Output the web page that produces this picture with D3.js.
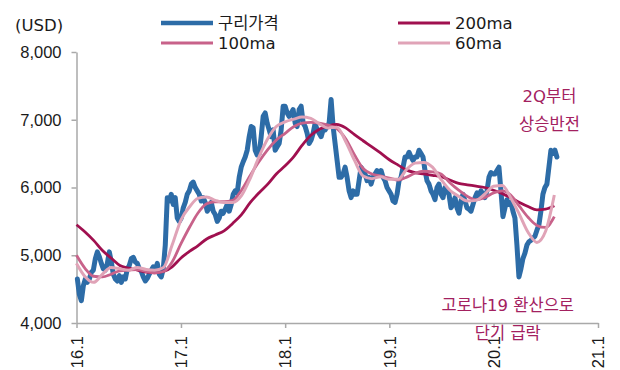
<!DOCTYPE html>
<html>
<head>
<meta charset="utf-8">
<script src="https://cdn.jsdelivr.net/npm/d3@7"></script>
<style>
  html, body { margin: 0; padding: 0; background: #fff; }
  svg { display: block; font-family: "DejaVu Sans", "Noto Sans CJK KR", sans-serif; }
</style>
</head>
<body>
<svg id="chart" width="620" height="370"></svg>
<script>
// Weekly copper price (USD/t), one value per Monday week, by year
const copper2016 = [4650, 4420, 4330, 4550,
  4650, 4600, 4650, 4750, 4780,
  4950, 5050, 4980, 4880,
  4800, 4780, 4880, 5050,
  4900, 4720, 4650, 4620, 4700,
  4600, 4680, 4650, 4800,
  4850, 4950, 4970, 4900,
  4880, 4800, 4760, 4680, 4620,
  4660, 4720, 4780, 4830,
  4780, 4880, 4720, 4680, 4800,
  5150, 5850, 5800, 5900,
  5750, 5850, 5550, 5500];
const copper2017 = [5550, 5700, 5780, 5900, 5950,
  6050, 6080, 6000, 5950,
  5900, 5800, 5850, 5780,
  5650, 5700, 5780, 5650,
  5600, 5500, 5550, 5650, 5620,
  5680, 5750, 5650, 5750,
  5900, 5950, 5920, 6150, 6300,
  6380, 6450, 6550, 6750,
  6900, 6880, 6550, 6480,
  6500, 6750, 7050, 7100, 6950,
  6850, 6750, 6850, 6550,
  6600, 6650, 6850, 7200];
const copper2018 = [7200, 7100, 7050, 7100, 7150,
  6950, 6900, 7150, 7200,
  6950, 6900, 6800, 6650,
  6700, 6800, 6950, 6850, 6800,
  6750, 6850, 6850, 6900,
  6950, 7300, 6900, 6650,
  6400, 6150, 6150, 6200, 6300,
  6150, 5950, 5850, 5950,
  5900, 5900, 6100, 6300,
  6250, 6200, 6100, 6150, 6050,
  6150, 6200, 6250, 6200,
  6250, 6150, 6100, 6000, 5950];
const copper2019 = [5900, 5800, 5780, 5900,
  6100, 6150, 6300, 6450,
  6450, 6520, 6450, 6400,
  6450, 6450, 6550, 6500, 6450,
  6250, 6100, 6050, 5950,
  5900, 5820, 6000, 6050,
  5900, 5850, 6000, 5950, 5900,
  5700, 5750, 5850, 5700,
  5620, 5800, 5900, 5800, 5700,
  5680, 5650, 5750, 5850,
  5920, 5850, 5950, 5900,
  5850, 5950, 6150, 6220, 6200];
const copper2020 = [6200, 6250, 6300, 5950,
  5570, 5700, 5820, 5750,
  5780, 5650, 5550, 5150, 4680,
  4800, 4950, 5030, 5150,
  5200, 5220, 5250, 5280,
  5370, 5450, 5650, 5900, 6000,
  6050, 6300, 6550, 6500,
  6550, 6450];

// Moving averages, one value per month (Jan 2016 - Aug 2020)
const ma200 = [5450, 5340, 5220, 5070, 4960, 4850, 4810, 4780, 4750, 4740, 4760, 4830,
  4960, 5060, 5140, 5240, 5300, 5360, 5470, 5600, 5780, 5920, 6050, 6200,
  6320, 6460, 6620, 6770, 6860, 6910, 6930, 6880, 6780, 6690, 6600, 6510,
  6410, 6330, 6260, 6220, 6200, 6180, 6160, 6110, 6060, 6040, 6020, 6000,
  5960, 5910, 5850, 5780, 5720, 5670, 5680, 5730];
const ma100 = [5000, 4800, 4690, 4680, 4720, 4770, 4780, 4790, 4760, 4740, 4760, 4900,
  5170, 5420, 5620, 5760, 5790, 5790, 5810, 5960, 6180, 6380, 6560, 6700,
  6800, 6900, 6950, 6960, 6950, 6920, 6870, 6720, 6480, 6280, 6200, 6170,
  6140, 6110, 6150, 6210, 6240, 6230, 6200, 6070, 5960, 5870, 5820, 5850,
  5920, 5950, 5890, 5720, 5560, 5440, 5410, 5570];
const ma60 = [4880, 4680, 4600, 4720, 4820, 4800, 4780, 4820, 4790, 4780, 4820, 5150,
  5520, 5720, 5840, 5860, 5810, 5780, 5780, 5880, 6140, 6450, 6720, 6900,
  6970, 7010, 7040, 7020, 6940, 6880, 6890, 6680, 6400, 6170, 6130, 6160,
  6120, 6120, 6260, 6360, 6370, 6300, 6120, 5960, 5870, 5800, 5810, 5900,
  6020, 6030, 5850, 5600, 5340, 5190, 5350, 5890];

const yTicks = [4000, 5000, 6000, 7000, 8000];
const xTickYears = [2016, 2017, 2018, 2019, 2020, 2021];
const xTickLabels = ["16.1", "17.1", "18.1", "19.1", "20.1", "21.1"];
const seriesNames = ["구리가격", "200ma", "100ma", "60ma"];
const seriesColors = ["#2d6ca7", "#a0104f", "#c8628a", "#e0a3b7"];
const notes = [
  { lines: ["2Q부터", "상승반전"], date: new Date(2020, 6, 15), value: 7350 },
  { lines: ["고로나19 환산으로", "단기 급락"], date: new Date(2020, 1, 20), value: 4265 }
];

const svg = d3.select("#chart");
const x = d3.scaleTime()
  .domain([new Date(2016, 0, 1), new Date(2021, 0, 1)])
  .range([76.5, 598]);
const y = d3.scaleLinear().domain([4000, 8000]).range([323, 52]);

// price series on weekly dates
const copper = [].concat(copper2016, copper2017, copper2018, copper2019, copper2020);
const weeks = d3.timeMonday.range(new Date(2016, 0, 4), new Date(2020, 7, 11));
const priceData = copper.map((v, i) => ({ date: weeks[i], value: v })).filter(d => d.date);

const months = d3.timeMonth.range(new Date(2016, 0, 1), new Date(2020, 8, 2));
const toSeries = arr => arr.map((v, i) => ({ date: months[i], value: v }));

// axes
const axisColor = "#a9a9a9";
const yAxis = svg.append("g")
  .attr("transform", "translate(76.5,0)")
  .call(d3.axisLeft(y).tickValues(yTicks).tickSize(5).tickSizeOuter(0)
    .tickFormat(d3.format(",")).tickPadding(10));
const xAxis = svg.append("g")
  .attr("transform", "translate(0,323)")
  .call(d3.axisBottom(x).tickValues(xTickYears.map(yr => new Date(yr, 0, 1)))
    .tickSize(5).tickSizeOuter(0).tickFormat((d, i) => xTickLabels[i]));

[yAxis, xAxis].forEach(g => {
  g.select(".domain").attr("stroke", axisColor).attr("stroke-width", 1.5);
  g.selectAll(".tick line").attr("stroke", axisColor).attr("stroke-width", 1.5);
  g.selectAll("text").attr("fill", "#1a1a1a").style("font-size", "16.5px");
});
xAxis.selectAll(".tick text")
  .attr("transform", "rotate(-90)")
  .attr("text-anchor", "end")
  .attr("x", -13).attr("y", 0).attr("dy", "0.35em");

svg.append("text").attr("x", 15).attr("y", 25).attr("dy", "0.35em")
  .attr("fill", "#1a1a1a").style("font-size", "16.5px").text("(USD)");

// lines
const priceLine = d3.line().x(d => x(d.date)).y(d => y(d.value));
const maLine = d3.line().x(d => x(d.date)).y(d => y(d.value)).curve(d3.curveMonotoneX);

svg.append("path").datum(priceData)
  .attr("fill", "none").attr("stroke", seriesColors[0]).attr("stroke-width", 5)
  .attr("stroke-linejoin", "round").attr("stroke-linecap", "round")
  .attr("d", priceLine);

[[ma200, 1, 2.8], [ma100, 2, 2.8], [ma60, 3, 3]].forEach(([arr, ci, w]) => {
  svg.append("path").datum(toSeries(arr))
    .attr("fill", "none").attr("stroke", seriesColors[ci]).attr("stroke-width", w)
    .attr("stroke-linejoin", "round").attr("d", maLine);
});

// legend (two columns, two rows)
const legendPos = [[161, 23], [398, 23], [161, 43], [398, 43]];
const legendWidth = [4.5, 2.8, 2.8, 2.8];
seriesNames.forEach((name, i) => {
  const [lx, ly] = legendPos[i];
  svg.append("line").attr("x1", lx).attr("x2", lx + 52).attr("y1", ly).attr("y2", ly)
    .attr("stroke", seriesColors[i]).attr("stroke-width", legendWidth[i]);
  svg.append("text").attr("x", lx + 57).attr("y", ly).attr("dy", "0.35em")
    .attr("fill", "#1a1a1a").style("font-size", "16.5px").text(name);
});

// annotations
notes.forEach(n => {
  const t = svg.append("text").attr("text-anchor", "middle")
    .attr("fill", "#a3215f").style("font-size", "16.5px");
  n.lines.forEach((ln, i) => {
    t.append("tspan").attr("x", x(n.date)).attr("y", y(n.value) + i * 28)
      .attr("dy", "0.35em").text(ln);
  });
});
</script>
</body>
</html>
